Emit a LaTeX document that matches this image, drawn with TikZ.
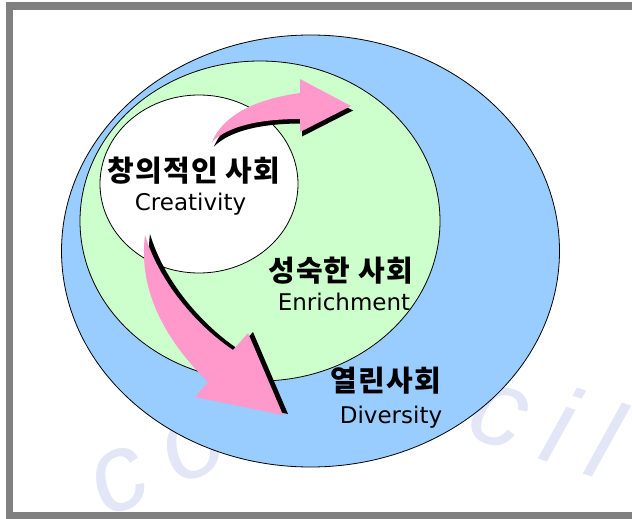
\documentclass[tikz,border=0pt]{standalone}
\usepackage{fontspec}
\setmainfont{DejaVu Sans}
\newfontfamily\kofont[LetterSpace=4]{Noto Sans CJK KR}
\newfontfamily\wmfont[LetterSpace=20]{Liberation Sans}
\usetikzlibrary{shapes.geometric}
\definecolor{outerblue}{RGB}{153,204,255}
\definecolor{midgreen}{RGB}{204,255,204}
\definecolor{arrowpink}{RGB}{255,153,204}
\definecolor{framegray}{RGB}{128,128,128}
\definecolor{wmark}{RGB}{226,230,246}
\tikzset{
  ring/.style={ellipse, draw=black, line width=0.8pt, inner sep=0pt},
  kolabel/.style={font=\kofont\bfseries\fontsize{29}{31}\selectfont, inner sep=0pt, anchor=base},
  enlabel/.style={font=\fontsize{23}{26}\selectfont, inner sep=0pt, anchor=base},
  wmword/.style={font=\wmfont\itshape\fontsize{110}{110}\selectfont, text=wmark, inner sep=0pt, anchor=base},
  pinkarrow/.style={fill=arrowpink, draw=none},
  shadowarrow/.style={fill=black, draw=none}
}
\begin{document}
\begin{tikzpicture}[x=1pt,y=-1pt]
\useasboundingbox (0,0) rectangle (632,519);
\fill[white] (0,0) rectangle (632,519);
% watermark
\node[wmword, rotate=24] (wleft) at (170,490) {co};
\node[wmword, rotate=-18] (wright) at (534,458) {cil};
% frame
\draw[framegray, line width=7.5pt] (9.5,6) -- (660,6) (9.5,515.5) -- (660,515.5) (9.5,2) -- (9.5,519);
% nested ellipses
\node[ring, fill=outerblue, minimum width=498pt, minimum height=432pt] (open) at (310.5,251) {};
\node[ring, fill=midgreen, minimum width=360pt, minimum height=320pt] (mature) at (260,221) {};
\node[ring, fill=white, minimum width=198pt, minimum height=178pt] (creative) at (199,184) {};
% upper arrow
\begin{scope}[shift={(2,4.5)}]
\fill[shadowarrow] (212,142) .. controls (222,118) and (250,100) .. (300,93)
  -- (300,79) -- (351,106) -- (300,132) -- (300,119)
  .. controls (260,119) and (228,126) .. (212,142) -- cycle;
\end{scope}
\fill[pinkarrow] (212,142) .. controls (222,118) and (250,100) .. (300,93)
  -- (300,79) -- (351,106) -- (300,132) -- (300,119)
  .. controls (260,119) and (228,126) .. (212,142) -- cycle;
% lower arrow
\begin{scope}[shift={(5,-1)}]
\fill[shadowarrow] (145,235) .. controls (138,290) and (165,340) .. (208,382)
  -- (195,397) -- (283,415) -- (248,333) -- (233,350)
  .. controls (200,328) and (160,285) .. (145,235) -- cycle;
\end{scope}
\fill[pinkarrow] (145,235) .. controls (138,290) and (165,340) .. (208,382)
  -- (195,397) -- (283,415) -- (248,333) -- (233,350)
  .. controls (200,328) and (160,285) .. (145,235) -- cycle;
% labels
\node[kolabel] (t1) at (194,181) {창의적인 사회};
\node[enlabel] (e1) at (190.5,210) {Creativity};
\node[kolabel] (t2) at (340.5,281) {성숙한 사회};
\node[enlabel] (e2) at (344,310) {Enrichment};
\node[kolabel] (t3) at (386,391) {열린사회};
\node[enlabel] (e3) at (391,423) {Diversity};
\end{tikzpicture}
\end{document}
